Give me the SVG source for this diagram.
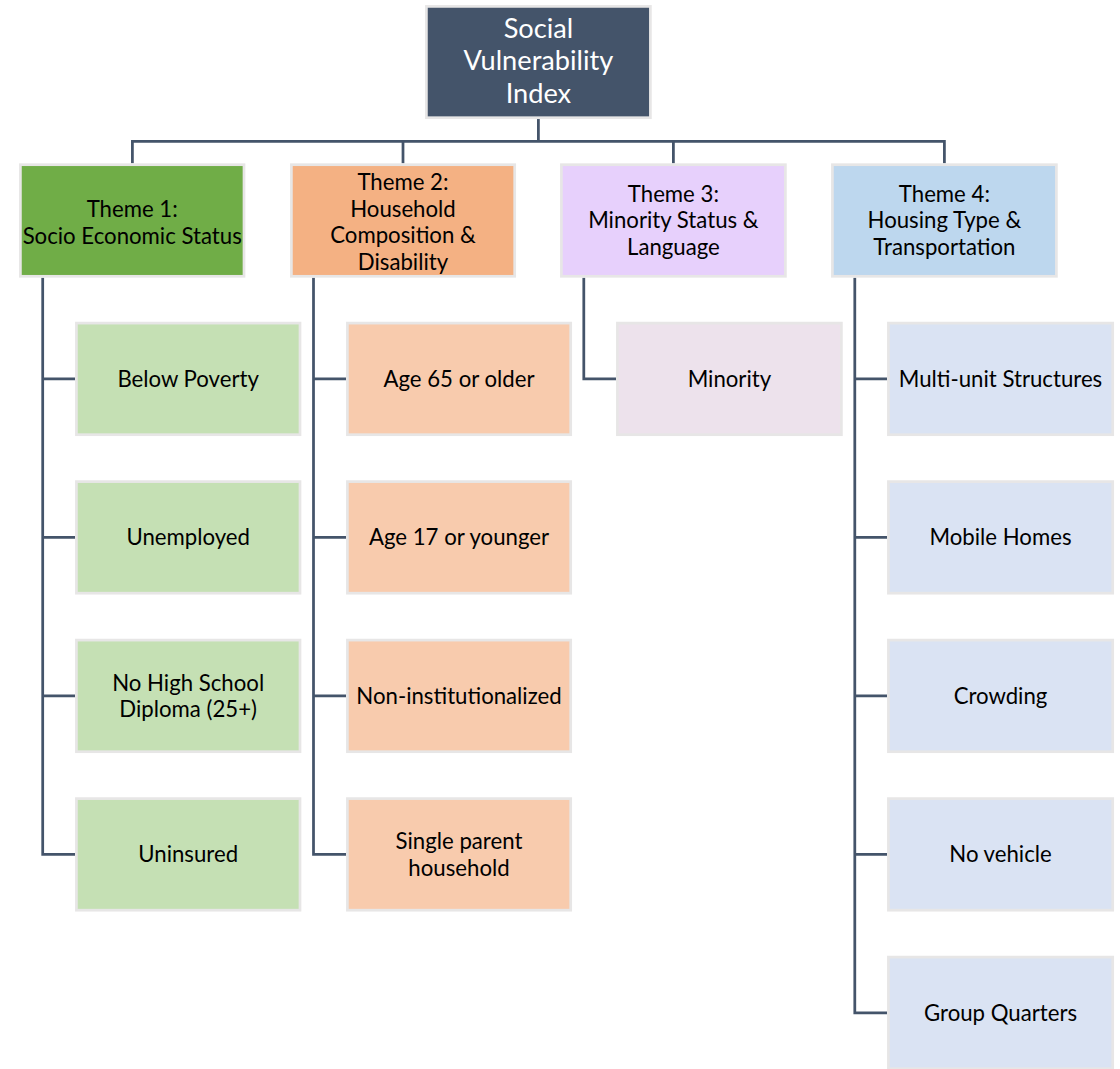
<svg xmlns="http://www.w3.org/2000/svg" width="1120" height="1069" viewBox="0 0 1120 1069">
<style>
.box{stroke:#E7E6E6;stroke-width:2.7}
.t{font-family:Lato,"Liberation Sans",sans-serif;font-size:22.2px;fill:#000;text-anchor:middle}
.top{font-family:Lato,"Liberation Sans",sans-serif;font-size:27.2px;fill:#fff;text-anchor:middle}
.c{fill:none;stroke:#44546A;stroke-width:2.75}
.g1{fill:#70AD47}.g2{fill:#F4B183}.g3{fill:#E7D0FC}.g4{fill:#BDD7EE}
.l1{fill:#C5E0B4}.l2{fill:#F8CBAD}.l3{fill:#EDE2EC}.l4{fill:#DAE3F3}
</style>
<g id="connectors">
<path class="c" d="M538.4 119 V141.3"/>
<path class="c" d="M132.4 163.3 V141.3 H944.4 V163.3"/>
<path class="c" d="M403 141.3 V163.3"/>
<path class="c" d="M673.4 141.3 V163.3"/>
<path class="c" d="M42.7 277.7 V854.4 H75"/>
<path class="c" d="M42.7 378.9 H75 M42.7 537.4 H75 M42.7 695.9 H75"/>
<path class="c" d="M313.5 277.7 V854.4 H346"/>
<path class="c" d="M313.5 378.9 H346 M313.5 537.4 H346 M313.5 695.9 H346"/>
<path class="c" d="M583.8 277.7 V378.9 H616"/>
<path class="c" d="M854.8 277.7 V1012.9 H887"/>
<path class="c" d="M854.8 378.9 H887 M854.8 537.4 H887 M854.8 695.9 H887 M854.8 854.4 H887"/>
</g>
<g id="svi">
<rect class="box" x="426.4" y="6.4" width="224" height="111.3" fill="#44546A"/>
<text class="top" x="538.4" y="37.5">Social</text>
<text class="top" x="538.4" y="70">Vulnerability</text>
<text class="top" x="538.4" y="102.5">Index</text>
</g>
<g id="theme1">
<rect class="box g1" x="20.4" y="164.7" width="223.6" height="111.6"/>
<text class="t" x="132.2" y="217">Theme 1:</text>
<text class="t" x="132.2" y="243.5">Socio Economic Status</text>
</g>
<g id="theme2">
<rect class="box g2" x="291.4" y="164.7" width="223.3" height="111.6"/>
<text class="t" x="403" y="190">Theme 2:</text>
<text class="t" x="403" y="216.5">Household</text>
<text class="t" x="403" y="243">Composition &amp;</text>
<text class="t" x="403" y="269.5">Disability</text>
</g>
<g id="theme3">
<rect class="box g3" x="561.4" y="164.7" width="224" height="111.6"/>
<text class="t" x="673.4" y="201.8">Theme 3:</text>
<text class="t" x="673.4" y="228.3">Minority Status &amp;</text>
<text class="t" x="673.4" y="254.8">Language</text>
</g>
<g id="theme4">
<rect class="box g4" x="832.4" y="164.7" width="224" height="111.6"/>
<text class="t" x="944.4" y="201.8">Theme 4:</text>
<text class="t" x="944.4" y="228.3">Housing Type &amp;</text>
<text class="t" x="944.4" y="254.8">Transportation</text>
</g>
<g id="below-poverty">
<rect class="box l1" x="76.4" y="323.1" width="223.6" height="111.6"/>
<text class="t" x="188.2" y="386.9">Below Poverty</text>
</g>
<g id="unemployed">
<rect class="box l1" x="76.4" y="481.6" width="223.6" height="111.6"/>
<text class="t" x="188.2" y="545.4">Unemployed</text>
</g>
<g id="no-high-school">
<rect class="box l1" x="76.4" y="640.1" width="223.6" height="111.6"/>
<text class="t" x="188.2" y="690.6">No High School</text>
<text class="t" x="188.2" y="717.1">Diploma (25+)</text>
</g>
<g id="uninsured">
<rect class="box l1" x="76.4" y="798.6" width="223.6" height="111.6"/>
<text class="t" x="188.2" y="862.4">Uninsured</text>
</g>
<g id="age65">
<rect class="box l2" x="347.4" y="323.1" width="223.3" height="111.6"/>
<text class="t" x="459" y="386.9">Age 65 or older</text>
</g>
<g id="age17">
<rect class="box l2" x="347.4" y="481.6" width="223.3" height="111.6"/>
<text class="t" x="459" y="545.4">Age 17 or younger</text>
</g>
<g id="non-inst">
<rect class="box l2" x="347.4" y="640.1" width="223.3" height="111.6"/>
<text class="t" x="459" y="703.9">Non-institutionalized</text>
</g>
<g id="single-parent">
<rect class="box l2" x="347.4" y="798.6" width="223.3" height="111.6"/>
<text class="t" x="459" y="849.1">Single parent</text>
<text class="t" x="459" y="875.6">household</text>
</g>
<g id="minority">
<rect class="box l3" x="617.4" y="323.1" width="224" height="111.6"/>
<text class="t" x="729.4" y="386.9">Minority</text>
</g>
<g id="multi-unit">
<rect class="box l4" x="888.4" y="323.1" width="224.3" height="111.6"/>
<text class="t" x="1000.5" y="386.9">Multi-unit Structures</text>
</g>
<g id="mobile-homes">
<rect class="box l4" x="888.4" y="481.6" width="224.3" height="111.6"/>
<text class="t" x="1000.5" y="545.4">Mobile Homes</text>
</g>
<g id="crowding">
<rect class="box l4" x="888.4" y="640.1" width="224.3" height="111.6"/>
<text class="t" x="1000.5" y="703.9">Crowding</text>
</g>
<g id="no-vehicle">
<rect class="box l4" x="888.4" y="798.6" width="224.3" height="111.6"/>
<text class="t" x="1000.5" y="862.4">No vehicle</text>
</g>
<g id="group-quarters">
<rect class="box l4" x="888.4" y="957.1" width="224.3" height="111.6"/>
<text class="t" x="1000.5" y="1020.9">Group Quarters</text>
</g>
</svg>
